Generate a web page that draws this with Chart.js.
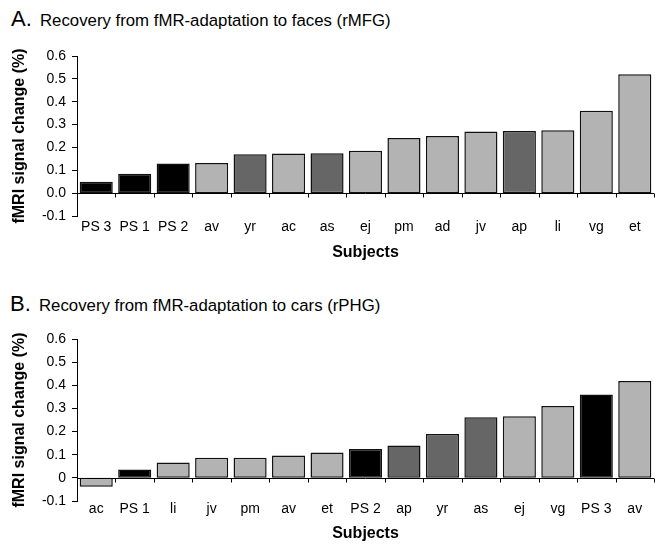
<!DOCTYPE html>
<html>
<head>
<meta charset="utf-8">
<script src="https://cdn.jsdelivr.net/npm/chart.js@4/dist/chart.umd.min.js"></script>
<style>
body { margin: 0; background: #fff; font-family: "Liberation Sans", Arial, sans-serif; color: #000; }
#wrap { position: relative; width: 655px; height: 544px; overflow: hidden; }
.big { position: absolute; font-size: 22px; line-height: 22px; white-space: nowrap; }
.ttl { position: absolute; font-size: 16.8px; line-height: 16.8px; white-space: nowrap; }
.box { position: absolute; left: 0; width: 655px; }
</style>
</head>
<body>
<div id="wrap">
  <span class="big" style="left:11px;top:8px">A.</span>
  <span class="ttl" style="left:40px;top:13px">Recovery from fMR-adaptation to faces (rMFG)</span>
  <div class="box" style="top:30px;height:240px"><canvas id="chartA"></canvas></div>

  <span class="big" style="left:10px;top:293px">B.</span>
  <span class="ttl" style="left:39px;top:298px">Recovery from fMR-adaptation to cars (rPHG)</span>
  <div class="box" style="top:316px;height:228px"><canvas id="chartB"></canvas></div>
</div>
<script>
// A. faces (rMFG)
const subjectsA = ['PS 3', 'PS 1', 'PS 2', 'av', 'yr', 'ac', 'as', 'ej', 'pm', 'ad', 'jv', 'ap', 'li', 'vg', 'et'];
const valuesA = [0.05, 0.085, 0.13, 0.132, 0.17, 0.173, 0.175, 0.185, 0.241, 0.25, 0.27, 0.272, 0.275, 0.36, 0.52];
const groupsA = ['ps', 'ps', 'ps', 'light', 'dark', 'light', 'dark', 'light', 'light', 'light', 'light', 'dark', 'light', 'light', 'light'];
const tickLabelsA = ['-0.1', '0.0', '0.1', '0.2', '0.3', '0.4', '0.5', '0.6'];

// B. cars (rPHG)
const subjectsB = ['ac', 'PS 1', 'li', 'jv', 'pm', 'av', 'et', 'PS 2', 'ap', 'yr', 'as', 'ej', 'vg', 'PS 3', 'av'];
const valuesB = [-0.038, 0.036, 0.066, 0.087, 0.087, 0.097, 0.11, 0.125, 0.14, 0.19, 0.262, 0.266, 0.31, 0.36, 0.418];
const groupsB = ['light', 'ps', 'light', 'light', 'light', 'light', 'light', 'ps', 'dark', 'dark', 'dark', 'light', 'light', 'ps', 'light'];
const tickLabelsB = ['-0.1', '0', '0.1', '0.2', '0.3', '0.4', '0.5', '0.6'];

const groupColors = { ps: '#000000', dark: '#666666', light: '#b3b3b3' };
const fontFamily = '"Liberation Sans", Arial, sans-serif';

// x axis line sits at zero, with little ticks between the bars
const zeroLine = {
  id: 'zeroLine',
  afterDatasetsDraw(chart) {
    const { ctx, chartArea, scales: { x, y } } = chart;
    const y0 = Math.round(y.getPixelForValue(0)) + 0.5;
    ctx.save();
    ctx.strokeStyle = '#000';
    ctx.lineWidth = 1;
    ctx.beginPath();
    ctx.moveTo(chartArea.left, y0);
    ctx.lineTo(chartArea.right, y0);
    for (let i = 0; i <= chart.data.labels.length; i++) {
      const px = Math.round(x.getPixelForValue(i - 0.5)) + 0.5;
      ctx.moveTo(px, y0);
      ctx.lineTo(px, y0 + 4);
    }
    ctx.stroke();
    ctx.restore();
  }
};

function makeChart(id, labels, values, groups, tickLabels, cfg) {
  return new Chart(document.getElementById(id), {
    type: 'bar',
    data: {
      labels: labels,
      datasets: [{
        data: values,
        backgroundColor: groups.map(g => groupColors[g]),
        borderColor: '#111',
        borderWidth: 1.5,
        borderSkipped: false,
        barPercentage: 0.86,
        categoryPercentage: 1.0
      }]
    },
    options: {
      responsive: true,
      maintainAspectRatio: false,
      animation: false,
      layout: { padding: { top: cfg.top, right: 1, left: 0, bottom: 0 } },
      plugins: { legend: { display: false }, tooltip: { enabled: false } },
      scales: {
        x: {
          grid: { display: false, drawTicks: false },
          border: { display: false },
          ticks: { color: '#000', padding: cfg.labelPad, maxRotation: 0, autoSkip: false,
                   font: { family: fontFamily, size: 14 } },
          title: { display: true, text: 'Subjects', color: '#000',
                   padding: { top: 0, bottom: cfg.titlePad },
                   font: { family: fontFamily, size: 16, weight: 'bold' } },
          afterFit(scale) { scale.height = cfg.xHeight; }
        },
        y: {
          min: -0.1,
          max: 0.6,
          ticks: { stepSize: 0.1, color: '#000', padding: 6,
                   font: { family: fontFamily, size: 14 },
                   callback: (v, i) => tickLabels[i] },
          grid: { drawOnChartArea: false, drawTicks: true, tickLength: 5, color: '#000' },
          border: { display: true, color: '#000', width: 1 },
          title: { display: true, text: 'fMRI signal change (%)', color: '#000',
                   padding: { top: 10, bottom: 0 },
                   font: { family: fontFamily, size: 16, weight: 'bold' } },
          afterFit(scale) { scale.width = 77; }
        }
      }
    },
    plugins: [zeroLine]
  });
}

makeChart('chartA', subjectsA, valuesA, groupsA, tickLabelsA,
  { top: 26, xHeight: 54, labelPad: 3, titlePad: 8 });
makeChart('chartB', subjectsB, valuesB, groupsB, tickLabelsB,
  { top: 23, xHeight: 43, labelPad: 0, titlePad: 1 });
</script>
</body>
</html>
